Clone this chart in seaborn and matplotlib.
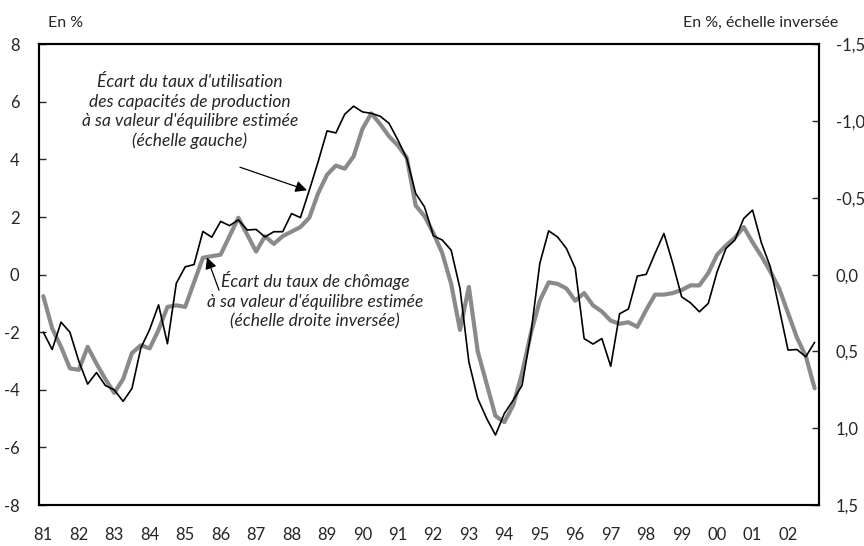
import numpy as np
import pandas as pd
import matplotlib
matplotlib.use("Agg")
import matplotlib.pyplot as plt
import seaborn as sns

# Quarterly data, 1981Q1 - 2002Q4
years = list(range(1981, 2003))
year_labels = ['81', '82', '83', '84', '85', '86', '87', '88', '89', '90', '91',
               '92', '93', '94', '95', '96', '97', '98', '99', '00', '01', '02']

# Capacity utilisation gap (left scale, %)
capacity_gap = [
    -2.0, -2.6, -1.65, -2.0,
    -3.0, -3.8, -3.4, -3.85,
    -4.0, -4.4, -3.95, -2.55,
    -1.9, -1.05, -2.4, -0.3,
    0.27, 0.35, 1.5, 1.3,
    1.85, 1.7, 1.9, 1.55,
    1.57, 1.31, 1.49, 1.49,
    2.12, 1.98, 2.93, 3.92,
    4.99, 4.92, 5.57, 5.85,
    5.65, 5.6, 5.5, 5.25,
    4.67, 4.03, 2.82, 2.35,
    1.35, 1.2, 0.85, -0.48,
    -3.03, -4.3, -4.99, -5.57,
    -4.82, -4.36, -3.84, -2.04,
    0.39, 1.52, 1.31, 0.91,
    0.22, -2.22, -2.41, -2.22,
    -3.18, -1.36, -1.19, -0.05,
    0.01, 0.74, 1.43, 0.39,
    -0.77, -0.98, -1.29, -1.0,
    0.1, 0.91, 1.2, 1.95,
    2.24, 1.1, 0.27, -1.17,
    -2.62, -2.6, -2.85, -2.35,
]

# Unemployment gap (right scale, %, inverted)
unemployment_gap = [
    0.14, 0.35, 0.47, 0.61,
    0.62, 0.47, 0.58, 0.68,
    0.77, 0.68, 0.51, 0.46,
    0.48, 0.36, 0.21, 0.20,
    0.21, 0.05, -0.11, -0.12,
    -0.13, -0.25, -0.37, -0.26,
    -0.15, -0.25, -0.20, -0.25,
    -0.28, -0.31, -0.37, -0.53,
    -0.65, -0.71, -0.69, -0.77,
    -0.95, -1.05, -0.98, -0.90,
    -0.84, -0.76, -0.45, -0.38,
    -0.27, -0.14, 0.06, 0.36,
    0.08, 0.50, 0.71, 0.92,
    0.96, 0.85, 0.64, 0.38,
    0.17, 0.05, 0.06, 0.09,
    0.17, 0.12, 0.20, 0.24,
    0.30, 0.32, 0.31, 0.34,
    0.23, 0.13, 0.13, 0.12,
    0.10, 0.07, 0.07, -0.01,
    -0.13, -0.19, -0.24, -0.31,
    -0.21, -0.12, -0.02, 0.09,
    0.25, 0.41, 0.53, 0.74,
]

left_ticks = [8, 6, 4, 2, 0, -2, -4, -6, -8]
right_ticks = [-1.5, -1.0, -0.5, 0.0, 0.5, 1.0, 1.5]

sns.set_style("white")
plt.rcParams['font.family'] = ['Lato', 'DejaVu Sans']

t = years[0] + 0.125 + 0.25 * np.arange(len(capacity_gap))
df = pd.DataFrame({'t': t, 'capacity': capacity_gap, 'unemployment': unemployment_gap})

fig, ax = plt.subplots(figsize=(8.64, 5.46), dpi=100)
fig.subplots_adjust(left=0.045, right=0.948, top=0.919, bottom=0.075)
ax2 = ax.twinx()

sns.lineplot(data=df, x='t', y='unemployment', ax=ax2, color='#8a8a8a', lw=3.0, zorder=2)
sns.lineplot(data=df, x='t', y='capacity', ax=ax, color='black', lw=1.2, zorder=3)
ax.set_zorder(ax2.get_zorder() + 1)
ax.patch.set_visible(False)

ax.set_xlim(1981, 2003)
ax.set_ylim(-8, 8)
ax2.set_ylim(1.5, -1.5)

ax.set_xlabel('')
ax.set_ylabel('')
ax2.set_ylabel('')

ax.set_yticks(left_ticks)
ax.set_yticklabels([str(v) for v in left_ticks], fontsize=12)
ax2.set_yticks(right_ticks)
ax2.set_yticklabels([f"{v:.1f}".replace('.', ',') for v in right_ticks], fontsize=12)

ax.set_xticks(years[1:])
ax.set_xticklabels([])
ax.set_xticks([y + 0.12 for y in years], minor=True)
ax.set_xticklabels(year_labels, minor=True, fontsize=12)
ax.tick_params(axis='x', which='major', direction='in', length=5, width=1)
ax.tick_params(axis='x', which='minor', length=0, pad=16)
ax.tick_params(axis='y', direction='in', length=5, width=1, pad=14)
ax2.tick_params(axis='y', direction='in', length=5, width=1, pad=12)

for a in (ax, ax2):
    for s in a.spines.values():
        s.set_linewidth(1.5)
        s.set_color('black')

fig.text(0.055, 0.958, 'En %', fontsize=11.5, ha='left', va='center')
fig.text(0.970, 0.958, 'En %, échelle inversée', fontsize=11.5, ha='right', va='center')

ax.text(1985.26, 5.66,
        "Écart du taux d'utilisation\ndes capacités de production\nà sa valeur d'équilibre estimée\n(échelle gauche)",
        fontsize=12.5, style='italic', ha='center', va='center', multialignment='center',
        linespacing=1.25)
ax.annotate('', xy=(1988.56, 2.93), xytext=(1986.67, 3.73),
            arrowprops=dict(arrowstyle='-|>', color='black', lw=0.9, mutation_scale=17,
                            shrinkA=0, shrinkB=0))

ax.text(1988.79, -0.89,
        "Écart du taux de chômage\nà sa valeur d'équilibre estimée\n(échelle droite inversée)",
        fontsize=12.5, style='italic', ha='center', va='center', multialignment='center',
        linespacing=1.25)
ax.annotate('', xy=(1985.74, 0.6), xytext=(1986.08, -0.54),
            arrowprops=dict(arrowstyle='-|>', color='black', lw=0.9, mutation_scale=17,
                            shrinkA=0, shrinkB=0))

fig.savefig('out.png', dpi=100)
